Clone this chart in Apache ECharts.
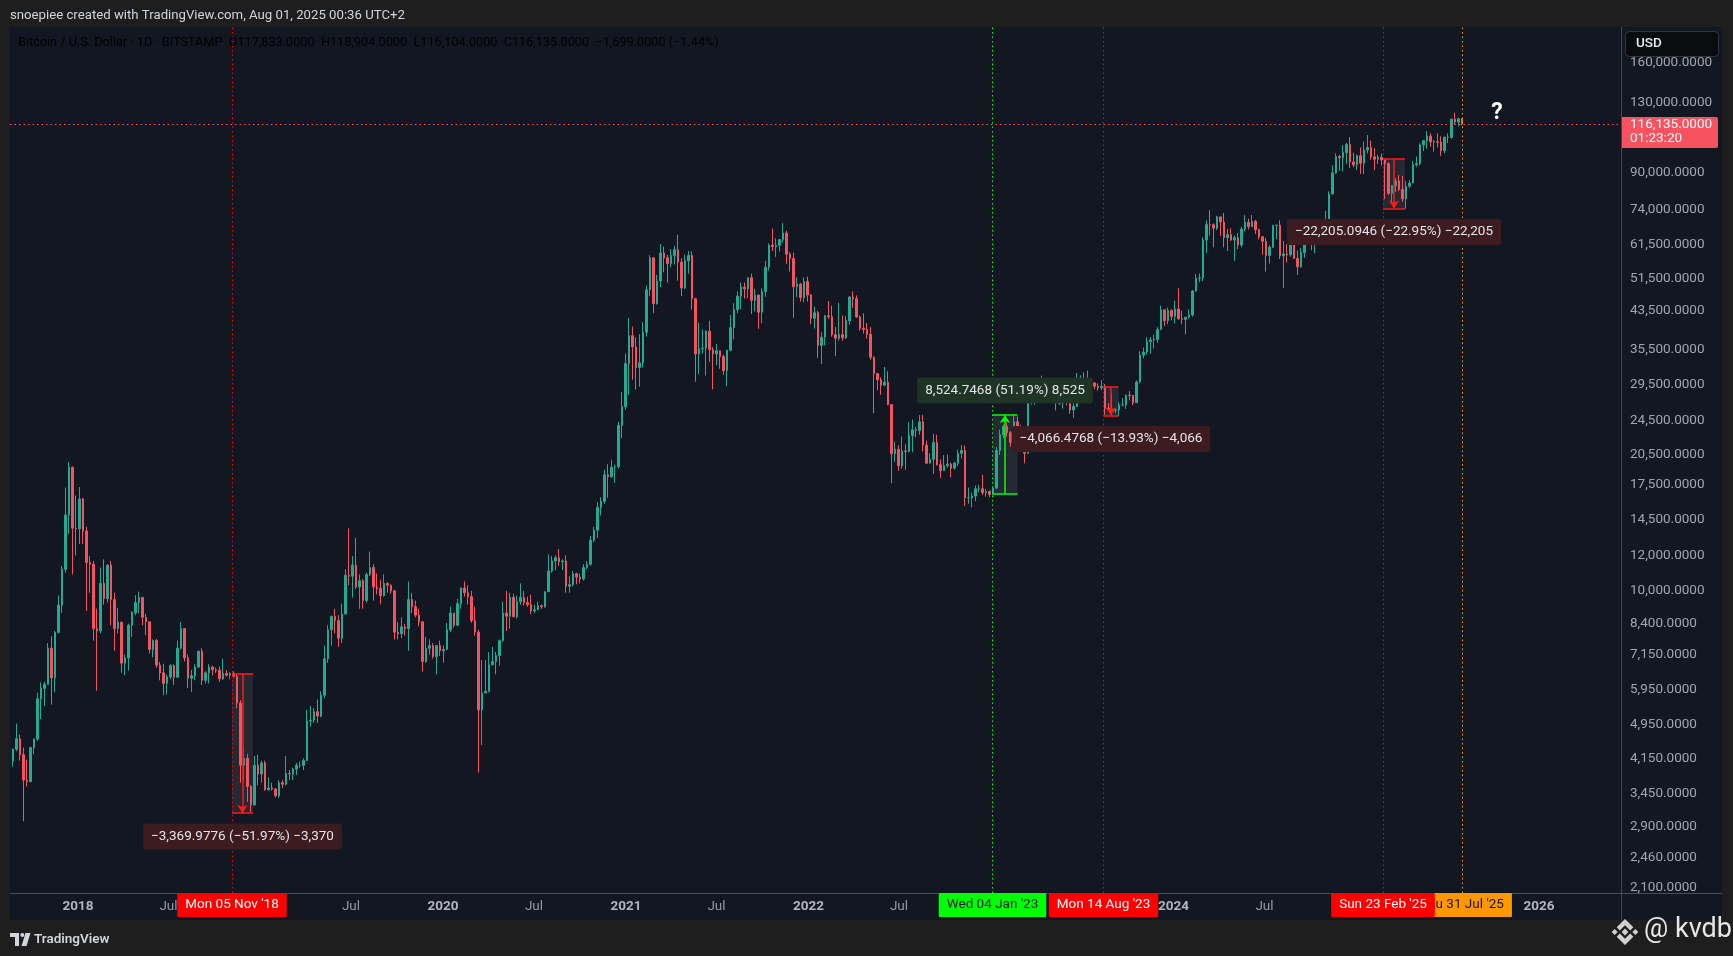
<!DOCTYPE html>
<html><head><meta charset="utf-8">
<script src="https://cdn.jsdelivr.net/npm/echarts@6/dist/echarts.min.js"></script>
<style>html,body{margin:0;padding:0;background:#1e1e1e;overflow:hidden}#c{width:1733px;height:956px}</style>
</head><body><div id="c"></div>
<script>
// ---------------- DATA ----------------
// weekly candles, each item [high, low, close]; open = previous close
const FIRST_OPEN = 4090;
const blockStarts = ['2017-08-21','2018-01-01','2018-12-31','2019-12-30','2020-12-28','2022-01-03','2023-01-02','2024-01-01','2024-12-30'];
const w2017 = [[4370,3970,4350],[4980,4310,4600],[4700,4100,4230],[4390,2980,3700],[4120,3580,3670],[4400,3660,4390],[4600,4240,4590],[5860,4550,5670],[6180,5100,5990],[6200,5460,6120],[7600,6100,7400],[7880,5500,6330],[8100,5870,8040],[9760,7990,9280],[11400,8900,11200],[17200,11000,14900],[19700,13500,19140],[19200,10900,13900],[16500,12050,13850]];
const w2018 = [[17250,12800,16200],[16300,12800,13700],[14000,9000,11600],[12000,9900,11500],[11700,7700,8200],[9100,5920,8100],[11300,8000,10400],[11800,9300,9600],[11500,9400,11450],[11700,8350,9550],[9900,7300,8200],[9150,8000,8480],[8500,6500,6840],[7150,6420,7030],[8420,6580,8350],[9000,7850,8920],[9770,8800,9400],[9960,8900,9660],[9680,8350,8700],[8870,7920,8500],[8500,7200,7350],[7750,7050,7700],[7760,6670,6770],[6880,6250,6500],[6820,5780,6150],[6450,5800,6360],[6800,6290,6750],[6800,6100,6350],[7700,6350,7400],[8500,7350,8200],[8230,6900,7030],[7160,6000,6320],[6600,5880,6400],[6800,6250,6700],[7300,6680,7280],[7400,6100,6250],[6560,6140,6500],[6800,6150,6700],[6750,6420,6610],[6680,6500,6590],[6720,6200,6300],[7000,6260,6480],[6600,6380,6420],[6520,6280,6480],[6550,6350,6380],[6450,5400,5550],[5630,3650,4000],[4400,3700,4150],[4250,3300,3580],[3600,3120,3250],[4200,3230,4000],[4230,3600,3820]];
const w2019 = [[4100,3650,4050],[4100,3500,3520],[3750,3500,3550],[3650,3500,3530],[3550,3380,3410],[3700,3370,3650],[3700,3550,3620],[4200,3600,3830],[3900,3700,3820],[3950,3700,3920],[4050,3800,4000],[4080,3950,4000],[4150,3900,4100],[5350,4100,5050],[5460,4900,5070],[5400,5000,5300],[5650,5000,5180],[5900,5150,5780],[7500,5700,7000],[8350,6850,8150],[8780,7500,8740],[9100,8000,8550],[8800,7450,7800],[9350,7600,8850],[11200,8900,10850],[13880,10300,10800],[12000,9650,11450],[13200,10100,10200],[10900,9100,10550],[10650,9100,9500],[11000,9400,10900],[12300,10800,11300],[11500,9500,10200],[10950,9800,10130],[10600,9320,9750],[10900,9700,10400],[10450,9900,10300],[10350,9850,10000],[10050,7750,8050],[8500,7750,7980],[8700,7800,8280],[8400,7900,8200],[10500,7300,9550],[9900,8900,9200],[9500,8700,8800],[9100,8300,8500],[8500,6550,6900],[7850,6850,7400],[7750,7150,7500],[7600,7000,7080],[7520,6450,7500],[7700,7100,7300]];
const w2020 = [[7500,6850,7350],[8450,7350,8150],[9200,8050,8900],[8900,8250,8350],[9600,8300,9350],[10180,9100,10150],[10500,9700,9900],[10300,9300,9700],[10000,8450,8550],[9200,7900,8050],[8150,3850,5350],[6950,4450,5850],[6950,5850,5900],[7250,5870,6780],[7450,6770,6900],[7250,6450,7120],[7750,6750,7700],[9450,7650,8900],[10000,8100,8750],[9900,8200,9670],[9850,8700,8730],[9750,8650,9450],[10400,9300,9650],[9990,9250,9400],[9700,9200,9300],[9800,8850,9000],[9300,8900,9050],[9450,9050,9250],[9300,9100,9200],[9980,9150,9950],[12100,9950,11100],[12000,11000,11700],[12050,11150,11900],[12450,11400,11650],[11800,11150,11700],[12050,9900,10250],[10800,9900,10330],[11100,10250,10940],[11000,10350,10750],[10950,10400,10650],[11500,10550,11300],[11700,11200,11500],[13350,11400,13050],[14000,12900,13750],[15950,13200,15500],[16350,14850,16000],[18900,15800,18400],[19450,16300,18200],[19900,18100,19150],[19400,17650,19200],[24300,19000,23850],[28400,22300,26300]];
const w2021 = [[34800,25900,33000],[41950,28000,38200],[40100,30300,36000],[37850,28800,32300],[38500,29250,33100],[41000,32300,38900],[49700,38000,48600],[58300,47000,57500],[57500,43000,45200],[52600,45000,50900],[61800,49300,59000],[61000,53300,57500],[58400,50500,55800],[60200,54800,58200],[61300,55500,60000],[64900,51000,56200],[57400,47000,49100],[58500,48800,56600],[59600,52900,58200],[59500,43800,46400],[46600,30000,34700],[40900,31200,35700],[39500,34800,35800],[39300,31000,39100],[41300,33300,35500],[36000,28800,34700],[36600,32700,35300],[35300,32100,34250],[34600,31100,31800],[35450,29300,35400],[42600,35200,39850],[45300,37500,43800],[48200,43000,47000],[50500,43950,49300],[50500,46400,48850],[51900,46550,51800],[52900,42800,46000],[48850,43400,47300],[47350,39600,43200],[49000,40800,48200],[56600,46900,54700],[62000,53800,61500],[67000,59600,61000],[63700,57800,61400],[63400,59400,63300],[69000,62300,65500],[66300,55700,58600],[59300,53500,57300],[59100,42000,49400],[51900,46800,50100],[50400,45700,46700],[51850,45500,50800],[52100,45700,47300]];
const w2022 = [[47500,40600,41850],[44500,39650,43100],[43500,34000,36300],[38900,32900,37900],[42600,36300,42400],[45800,41700,42200],[44700,38000,38400],[40000,34300,37700],[45400,37200,38400],[42500,37200,37800],[42400,37500,41300],[47000,40500,46800],[48200,44200,46400],[47200,41900,42150],[42500,39200,39700],[42950,38600,39450],[40800,37600,38450],[40000,33700,34100],[34300,25400,31300],[31400,28700,30300],[30700,28000,29450],[32400,29300,29900],[31700,26500,26600],[26600,17600,20550],[21900,19700,21050],[21500,18800,19300],[22500,19000,20850],[21600,18900,20800],[24250,20700,22600],[24600,20700,23300],[23650,22400,23200],[25200,22700,24300],[25200,20800,21500],[22000,19500,19550],[20600,19550,19950],[22800,18500,21800],[22700,19300,19400],[19950,18100,18800],[20400,18800,19300],[20450,19100,19450],[19600,18150,19050],[19700,18900,19550],[21000,19250,20600],[21500,20050,20900],[21450,15600,16300],[17200,15800,16300],[16750,15500,16450],[17400,16000,17100],[17450,16800,17100],[18400,16550,16750],[17050,16400,16850],[16950,16350,16600]];
const w2023 = [[17250,16550,17150],[21300,17100,20900],[23300,20400,22700],[23950,22300,23750],[24250,22500,22950],[23150,21350,21800],[25250,21400,24300],[25000,22750,23550],[23900,21950,22400],[22600,19550,20600],[28400,20900,28000],[28900,26600,27950],[29150,26550,28450],[28800,27200,28350],[31000,28200,30300],[30500,27150,27800],[30000,26950,29250],[29800,27650,28700],[28700,25800,26900],[27700,26550,26750],[28250,26050,28050],[28450,26500,27200],[27400,25350,25850],[26800,24800,26350],[31400,26250,30500],[31000,29500,30600],[31500,29700,30150],[31800,29950,30250],[30350,29550,29800],[29950,28850,29300],[29750,28600,29050],[30250,28700,29300],[29650,25200,26100],[26800,25800,26000],[28150,25350,25850],[26100,25400,25850],[26900,25000,26550],[27500,26350,26550],[28050,26000,27950],[28550,27200,27900],[28000,26550,26850],[30200,26900,29950],[35200,29750,34500],[35900,33900,35050],[37950,34600,37050],[37950,34750,37350],[38400,35700,37450],[39950,36800,39450],[44700,39450,43750],[43500,40200,41350],[44300,40600,43650],[43800,41400,42250]];
const w2024 = [[45900,40750,43950],[49000,41500,41750],[43550,40550,41600],[42150,38500,42100],[43850,41800,42600],[48550,42250,48300],[52800,48150,51650],[52950,50600,51750],[64000,50900,63100],[70000,59000,68500],[73800,64600,68400],[68900,60800,67200],[71700,66500,71300],[71300,64500,69400],[72800,60800,63900],[66900,59600,64950],[67200,62800,63150],[64700,56550,63900],[65500,60200,61500],[67700,60800,66900],[71950,66100,69300],[70600,66700,67750],[72000,68500,69650],[70200,65150,66650],[67000,63400,64250],[64300,58450,62700],[63850,53500,58250],[61400,55800,60800],[68400,60600,68150],[68400,63450,68250],[70000,57150,58100],[62800,49050,58700],[61800,56100,58400],[65000,57850,64200],[64500,57200,57300],[59800,52550,54850],[60600,54600,59150],[64100,57500,63350],[66500,62700,65650],[65550,59850,62850],[64500,58900,63000],[69400,62450,69050],[69500,65100,67950],[73600,67500,68800],[81500,66800,80450],[93500,80300,89850],[99600,89400,97900],[98700,90800,97300],[104000,90500,100000],[105200,94200,104300],[108300,92250,95150],[99900,92600,93700]];
const w2025 = [[98900,91350,98300],[102700,89300,94500],[106000,89250,101300],[109600,99500,102600],[106400,96200,97700],[102500,91200,96500],[98850,94100,97550],[99500,93400,96150],[96500,78200,94250],[95000,80000,80700],[84200,76600,84000],[87400,81200,86100],[88800,81600,82350],[88500,77150,78400],[86100,74450,83750],[86500,83100,85150],[95700,85100,93750],[97900,92800,94300],[104900,93400,104100],[106700,100700,106400],[111900,102000,109000],[110700,103100,105700],[106800,100400,105800],[110600,102700,105500],[108900,98200,100900],[108500,99600,108400],[110500,105100,108200],[119500,107500,119100],[123200,115700,117300],[120200,114700,119400],[119800,115500,116135]];
const blocks = [w2017, w2018, w2019, w2020, w2021, w2022, w2023, w2024, w2025];

// right price scale tick labels
const yTicks = [160000,130000,90000,74000,61500,51500,43500,35500,29500,24500,20500,17500,14500,12000,10000,8400,7150,5950,4950,4150,3450,2900,2460,2100];
// time scale labels
const xTickDates = ['2018-01-01','2018-07-01','2019-01-01','2019-07-01','2020-01-01','2020-07-01','2021-01-01','2021-07-01','2022-01-01','2022-07-01','2023-01-01','2023-07-01','2024-01-01','2024-07-01','2025-01-01','2025-07-01','2026-01-01'];
const xTickText  = ['2018','Jul','2019','Jul','2020','Jul','2021','Jul','2022','Jul','2023','Jul','2024','Jul','2025','Jul','2026'];
// vertical date markers
const markDates = ['2025-07-31','2018-11-05','2023-01-04','2023-08-14','2025-02-23'];
const markText  = ["Thu 31 Jul '25","Mon 05 Nov '18","Wed 04 Jan '23","Mon 14 Aug '23","Sun 23 Feb '25"];
// price range measurements
const measureStart = ['2018-11-05','2023-01-04','2023-08-14','2025-02-23'];
const measureEnd   = ['2018-12-17','2023-02-23','2023-09-13','2025-04-08'];
const measureFrom  = [6484.5, 16653, 29192, 96754];
const measureTo    = [3114.5, 25178, 25126, 74549];
const measureText  = ['−3,369.9776 (−51.97%) −3,370','8,524.7468 (51.19%) 8,525','−4,066.4768 (−13.93%) −4,066','−22,205.0946 (−22.95%) −22,205'];
const LAST_PRICE = 116135;
const COUNTDOWN = '01:23:20';
const questionAt = ['2025-10-09', 123000];
const headerText = 'snoepiee created with TradingView.com, Aug 01, 2025 00:36 UTC+2';
const symbolText = 'Bitcoin / U.S. Dollar · 1D · BITSTAMP';
const ohlcText = [['O','117,833.0000'],['H','118,904.0000'],['L','116,104.0000'],['C','116,135.0000']];
const changeText = '−1,699.0000 (−1.44%)';

// ---------------- STYLE ----------------
const FONT = 'Roboto, "Noto Sans", sans-serif';
const UP = '#22ab94', DOWN = '#f7525f';
const markColors = ['#ff9800','#ff0000','#00ff00','#ff0000','#ff0000'];
const markTextColors = ['#131722','#ffffff','#131722','#ffffff','#ffffff'];
const measureColors = ['#ff1a1a','#00ff00','#ff1a1a','#ff1a1a'];
const measureBg = ['#3c1b21','#1f3327','#3c1b21','#3c1b21'];

const DAY = 86400000;
const T = s => Date.UTC(+s.slice(0,4), +s.slice(5,7)-1, +s.slice(8,10));

const candles = [];
let prev = FIRST_OPEN;
blocks.forEach((blk, b) => {
  const t0 = T(blockStarts[b]);
  blk.forEach(([h, l, c], j) => {
    candles.push([t0 + (7 * j + 3) * DAY, prev, c, Math.min(l, prev, c), Math.max(h, prev, c)]);
    prev = c;
  });
});

const fmtPrice = v => v.toLocaleString('en-US') + '.0000';
const hidden = {color: 'transparent', width: 0};

// measurement drawings
const mAreas = [], mLines = [], mPoints = [];
measureStart.forEach((s, i) => {
  const t1 = T(s), t2 = T(measureEnd[i]), tm = (t1 + t2) / 2;
  const a = measureFrom[i], b = measureTo[i];
  const up = b > a;
  const hi = Math.max(a, b), lo = Math.min(a, b);
  const ls = {color: measureColors[i], width: 1.5, type: 'solid'};
  mAreas.push([{coord: [t1, hi]}, {coord: [t2, lo]}]);
  mLines.push([{coord: [t1, hi], lineStyle: ls}, {coord: [t2, hi]}]);
  mLines.push([{coord: [t1, lo], lineStyle: ls}, {coord: [t2, lo]}]);
  mLines.push([{coord: [tm, a], lineStyle: ls, symbol: 'none'}, {coord: [tm, b], symbol: 'arrow', symbolSize: 8}]);
  mPoints.push({
    coord: [tm, b], symbol: 'rect', symbolSize: 1, itemStyle: {color: 'transparent'},
    label: {show: true, position: up ? 'top' : 'bottom', distance: up ? 11 : 10, formatter: measureText[i],
      backgroundColor: measureBg[i], color: '#e3e5ea', padding: [6, 8, 6, 8], borderRadius: 3,
      fontSize: 13.5, fontFamily: FONT, lineHeight: 14}
  });
});
mPoints.push({
  coord: [T(questionAt[0]), questionAt[1]], symbol: 'rect', symbolSize: 1, itemStyle: {color: 'transparent'},
  label: {show: true, position: 'inside', formatter: '?', color: '#ffffff', fontSize: 23, fontWeight: 'bold', fontFamily: FONT}
});

const dummy = [[candles[0][0], candles[0][2]]];
const dummyBase = {type: 'line', data: dummy, showSymbol: false, symbol: 'none', lineStyle: hidden, clip: false, silent: true, animation: false, tooltip: {show: false}};

const option = {
  backgroundColor: '#1e1e1e',
  animation: false,
  grid: {left: 10, right: 112, top: 27, bottom: 63, containLabel: false},
  xAxis: {type: 'time', min: T('2017-08-18'), max: T('2026-06-14'),
    axisLine: {show: false}, axisTick: {show: false}, axisLabel: {show: false}, splitLine: {show: false}},
  yAxis: {type: 'log', logBase: 10, min: 2045, max: 193300, position: 'right',
    axisLine: {show: false}, axisTick: {show: false}, axisLabel: {show: false}, splitLine: {show: false}},
  series: [
    Object.assign({}, dummyBase, {name: 'areas', z: 2,
      markArea: {silent: true, itemStyle: {color: 'rgba(130,134,150,0.16)'}, label: {show: false}, data: mAreas}}),
    {type: 'candlestick', name: 'BTCUSD', z: 3, data: candles, barWidth: 2.2, clip: true,
      itemStyle: {color: UP, color0: DOWN, borderColor: UP, borderColor0: DOWN, borderWidth: 1}},
    Object.assign({}, dummyBase, {name: 'drawings', z: 4,
      markLine: {silent: true, symbol: 'none', label: {show: false},
        data: [...mLines, {yAxis: LAST_PRICE, lineStyle: {color: '#f7525f', type: [1.5, 3], width: 1}}]},
      markPoint: {silent: true, data: mPoints}}),
    Object.assign({}, dummyBase, {name: 'scales', z: 5,
      markLine: {silent: true, symbol: 'none', lineStyle: hidden,
        data: [
          ...yTicks.map(v => ({yAxis: v, label: {show: true, position: 'end', distance: 9, formatter: fmtPrice(v),
            color: '#a3a6af', fontSize: 13.5, fontFamily: FONT}})),
          ...xTickDates.map((d, i) => ({xAxis: T(d), label: {show: true, position: 'start', distance: 7,
            formatter: xTickText[i], fontFamily: FONT, fontSize: 13.5,
            color: xTickText[i] === 'Jul' ? '#9598a1' : '#b2b5be', fontWeight: xTickText[i] === 'Jul' ? 'normal' : 'bold'}}))
        ]}}),
    Object.assign({}, dummyBase, {name: 'dates', z: 6,
      markLine: {silent: true, symbol: 'none',
        data: markDates.map((d, i) => ({xAxis: T(d), lineStyle: {color: markColors[i], type: [1.5, 3], width: 1},
          label: {show: true, position: 'start', distance: 0, formatter: markText[i], backgroundColor: markColors[i],
            color: markTextColors[i], padding: [5, 8, 5, 8], lineHeight: 14, fontSize: 13.5, fontFamily: FONT, borderRadius: 1}}))}})
  ]
};

const chart = echarts.init(document.getElementById('c'), null, {renderer: 'canvas'});
chart.setOption(option);

const py = chart.convertToPixel({yAxisIndex: 0}, LAST_PRICE);
const richTitle = {g: {color: '#aeb1ba', fontSize: 12.7, fontFamily: FONT}, r: {color: '#f7525f', fontSize: 12.7, fontFamily: FONT}};
let titleStr = '{g|' + symbolText + '  }';
ohlcText.forEach(([k, v]) => { titleStr += '{g|' + k + '}{r|' + v + '  }'; });
titleStr += '{r|' + changeText + '}';

chart.setOption({graphic: [
  {id: 'panel', type: 'rect', z: 0, silent: true, shape: {x: 10, y: 27, width: 1712, height: 893}, style: {fill: '#131722'}},
  {id: 'sep', type: 'line', z: 1, silent: true, shape: {x1: 1621.5, y1: 27, x2: 1621.5, y2: 920}, style: {stroke: '#434651', lineWidth: 1}},
  {id: 'axis', type: 'line', z: 1, silent: true, shape: {x1: 10, y1: 893.5, x2: 1722, y2: 893.5}, style: {stroke: '#4a4d57', lineWidth: 1}},
  {id: 'hdr', type: 'text', z: 100, silent: true, x: 10, y: 16, style: {text: headerText, fill: '#d1d4dc', fontSize: 13.2, fontFamily: FONT, verticalAlign: 'middle'}},
  {id: 'ttl', type: 'text', z: 100, silent: true, x: 18, y: 43, style: {text: titleStr, rich: richTitle, verticalAlign: 'middle'}},
  {id: 'usdBox', type: 'rect', z: 100, silent: true, shape: {x: 1625.5, y: 31.5, width: 93, height: 25, r: 4}, style: {fill: '#0b0c0f', stroke: '#34363d', lineWidth: 1}},
  {id: 'usd', type: 'text', z: 101, silent: true, x: 1636, y: 44, style: {text: 'USD', fill: '#e8e9ec', fontSize: 13.5, fontWeight: 500, fontFamily: FONT, verticalAlign: 'middle'}},
  {id: 'pxBox', type: 'rect', z: 100, silent: true, shape: {x: 1622, y: py - 7, width: 96, height: 31, r: [0, 2, 2, 0]}, style: {fill: '#f7525f'}},
  {id: 'pxTxt', type: 'text', z: 101, silent: true, x: 1630, y: py + 1, style: {text: fmtPrice(LAST_PRICE), fill: '#ffffff', fontSize: 13.5, fontFamily: FONT, verticalAlign: 'middle'}},
  {id: 'pxCd', type: 'text', z: 101, silent: true, x: 1630, y: py + 14.5, style: {text: COUNTDOWN, fill: '#ffffff', fontSize: 13.5, fontFamily: FONT, verticalAlign: 'middle'}},
  // TradingView logo
  {id: 'tv1', type: 'rect', z: 100, silent: true, shape: {x: 10, y: 933, width: 9, height: 4}, style: {fill: '#d1d4dc'}},
  {id: 'tv2', type: 'rect', z: 100, silent: true, shape: {x: 15, y: 933, width: 4, height: 13}, style: {fill: '#d1d4dc'}},
  {id: 'tv3', type: 'circle', z: 100, silent: true, shape: {cx: 22.3, cy: 935, r: 2}, style: {fill: '#d1d4dc'}},
  {id: 'tv4', type: 'polygon', z: 100, silent: true, shape: {points: [[25.5, 933], [30.5, 933], [26.5, 946], [21.5, 946]]}, style: {fill: '#d1d4dc'}},
  {id: 'tvT', type: 'text', z: 100, silent: true, x: 34, y: 940, style: {text: 'TradingView', fill: '#d1d4dc', fontSize: 13.5, fontWeight: 600, fontFamily: FONT, verticalAlign: 'middle'}},
  // binance-like icon + handle
  {id: 'bn', type: 'group', z: 100, silent: true, x: 1625, y: 932, children: [
    {type: 'polygon', shape: {points: [[0, -13], [8.3, -4.7], [5.2, -1.6], [0, -6.8], [-5.2, -1.6], [-8.3, -4.7]]}, style: {fill: '#d0d0d0'}},
    {type: 'polygon', shape: {points: [[0, 13], [8.3, 4.7], [5.2, 1.6], [0, 6.8], [-5.2, 1.6], [-8.3, 4.7]]}, style: {fill: '#d0d0d0'}},
    {type: 'polygon', shape: {points: [[0, -3.4], [3.4, 0], [0, 3.4], [-3.4, 0]]}, style: {fill: '#d0d0d0'}},
    {type: 'polygon', shape: {points: [[-10.3, -3], [-7.3, 0], [-10.3, 3], [-13.3, 0]]}, style: {fill: '#d0d0d0'}},
    {type: 'polygon', shape: {points: [[10.3, -3], [13.3, 0], [10.3, 3], [7.3, 0]]}, style: {fill: '#d0d0d0'}}
  ]},
  {id: 'kv', type: 'text', z: 100, silent: true, x: 1644, y: 930, style: {text: '@ kvdb', fill: '#e6e6e6', fontSize: 27, fontFamily: FONT, verticalAlign: 'middle'}}
]});
</script></body></html>
